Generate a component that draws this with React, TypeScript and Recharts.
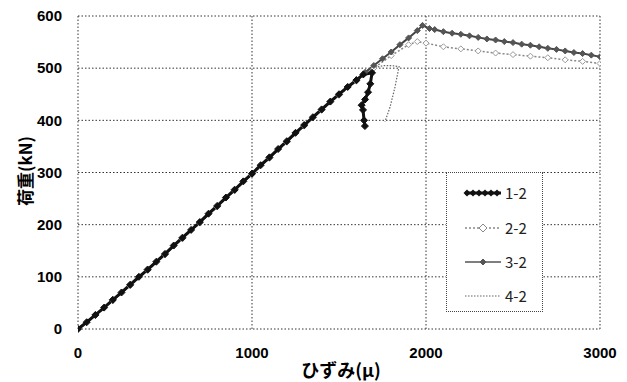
import { CartesianGrid, Line, LineChart, XAxis, YAxis } from "recharts";

const xTicks = [0, 1000, 2000, 3000];
const yTicks = [0, 100, 200, 300, 400, 500, 600];

// 1-2
const strain12 = [
  0, 50, 100, 150, 200, 250, 300, 350, 400, 450, 500, 550, 600, 650, 700, 750,
  800, 850, 900, 950, 1000, 1050, 1100, 1150, 1200, 1250, 1300, 1350, 1400,
  1450, 1500, 1550, 1600, 1640, 1690, 1680, 1667, 1650, 1630, 1638, 1644, 1649,
];
const load12 = [
  0, 13, 27, 41, 56, 70, 85, 100, 114, 129, 144, 160, 175, 190, 205, 221, 236,
  252, 267, 283, 298, 314, 329, 345, 360, 376, 391, 406, 421, 436, 450, 464,
  477, 488, 491, 470, 454, 440, 429, 420, 400, 389,
];

// 2-2
const strain22 = [
  0, 100, 200, 300, 400, 500, 600, 700, 800, 900, 1000, 1100, 1200, 1300, 1400,
  1500, 1600, 1700, 1800, 1900, 1950, 2000, 2100, 2200, 2300, 2400, 2500, 2600,
  2700, 2800, 2900, 3000,
];
const load22 = [
  0, 26, 54, 83, 112, 142, 173, 203, 234, 265, 296, 327, 358, 389, 419, 448,
  475, 500, 524, 545, 551, 548, 541, 537, 533, 529, 526, 523, 520, 516, 513,
  509,
];

// 3-2
const strain32 = [
  0, 100, 200, 300, 400, 500, 600, 700, 800, 900, 1000, 1100, 1200, 1300, 1400,
  1450, 1500, 1550, 1600, 1650, 1700, 1750, 1800, 1850, 1900, 1950, 1980, 2020,
  2050, 2100, 2150, 2200, 2250, 2300, 2350, 2400, 2450, 2500, 2550, 2600, 2650,
  2700, 2750, 2800, 2850, 2900, 2950, 3000,
];
const load32 = [
  0, 27, 55, 84, 113, 143, 174, 204, 235, 266, 297, 328, 359, 390, 420, 435,
  450, 464, 478, 492, 505, 518, 531, 545, 558, 572, 582, 576, 574, 570, 567,
  565, 562, 559, 556, 554, 551, 549, 546, 544, 541, 538, 536, 533, 530, 528,
  525, 522,
];

// 4-2
const strain42 = [
  0, 100, 200, 300, 400, 500, 600, 700, 800, 900, 1000, 1100, 1200, 1300, 1400,
  1500, 1600, 1700, 1760, 1800, 1845, 1822, 1793, 1764,
];
const load42 = [
  0, 27, 55, 84, 114, 144, 175, 205, 236, 267, 298, 329, 360, 390, 420, 449,
  476, 501, 505, 505, 503, 464, 425, 397,
];

const seriesNames = ["1-2", "2-2", "3-2", "4-2"];

function toPoints(xs: number[], ys: number[]) {
  return xs.map((x, i) => ({ x, y: ys[i] }));
}

function diamondPath(cx: number, cy: number, r: number) {
  return `M${cx},${cy - r}L${cx + r},${cy}L${cx},${cy + r}L${cx - r},${cy}Z`;
}

function diamondDot(fill: string, stroke: string, r: number) {
  return (props: any) => {
    const { cx, cy, index } = props;
    if (cx == null || cy == null) return <g key={`n-${index}`} />;
    return (
      <path
        key={`d-${index}`}
        d={diamondPath(cx, cy, r)}
        fill={fill}
        stroke={stroke}
        strokeWidth={1}
      />
    );
  };
}

const tickStyle = {
  fill: "#000",
  fontSize: 15,
  fontWeight: 700,
  fontFamily: "'Liberation Sans', Arial, sans-serif",
};

const titleFont = "'Noto Sans CJK JP', sans-serif";

function LegendSample({ index }: { index: number }) {
  if (index === 0) {
    return (
      <svg width={40} height={12}>
        <line x1={2} y1={6} x2={38} y2={6} stroke="#111" strokeWidth={3} />
        {[4, 10, 16, 22, 28, 34].map((x) => (
          <path key={x} d={diamondPath(x, 6, 3.5)} fill="#111" />
        ))}
      </svg>
    );
  }
  if (index === 1) {
    return (
      <svg width={40} height={12}>
        <line x1={2} y1={6} x2={38} y2={6} stroke="#888" strokeWidth={1.5} strokeDasharray="2 2" />
        <path d={diamondPath(20, 6, 4)} fill="#fff" stroke="#888" strokeWidth={1} />
      </svg>
    );
  }
  if (index === 2) {
    return (
      <svg width={40} height={12}>
        <line x1={2} y1={6} x2={38} y2={6} stroke="#555" strokeWidth={1.5} />
        <path d={diamondPath(20, 6, 3)} fill="#555" stroke="#555" strokeWidth={1} />
      </svg>
    );
  }
  return (
    <svg width={40} height={12}>
      <line x1={2} y1={6} x2={38} y2={6} stroke="#666" strokeWidth={1.2} strokeDasharray="1.5 1.5" />
    </svg>
  );
}

export default function App() {
  return (
    <div
      style={{
        position: "fixed",
        left: 0,
        top: 0,
        width: 627,
        height: 382,
        background: "#fff",
      }}
    >
      <LineChart
        width={627}
        height={382}
        margin={{ top: 16, right: 27, left: 0, bottom: 3 }}
      >
        <CartesianGrid stroke="#333" strokeDasharray="1.5 2" />
        <XAxis
          type="number"
          dataKey="x"
          domain={[0, 3000]}
          ticks={xTicks}
          axisLine={false}
          tickLine={false}
          tick={tickStyle}
          tickMargin={12}
          height={50}
          allowDataOverflow
          label={() => (
            <text
              x={341}
              y={377}
              textAnchor="middle"
              fontSize={18}
              fontWeight={700}
              fontFamily={titleFont}
              fill="#000"
            >
              ひずみ(μ)
            </text>
          )}
        />
        <YAxis
          type="number"
          dataKey="y"
          domain={[0, 600]}
          ticks={yTicks}
          axisLine={false}
          tickLine={false}
          tick={tickStyle}
          tickMargin={10}
          width={78}
          label={() => (
            <text
              x={24}
              y={171}
              transform="rotate(-90 24 171)"
              textAnchor="middle"
              dominantBaseline="central"
              fontSize={17}
              fontWeight={700}
              fontFamily={titleFont}
              fill="#000"
            >
              荷重(kN)
            </text>
          )}
        />
        <Line
          data={toPoints(strain42, load42)}
          dataKey="y"
          name={seriesNames[3]}
          stroke="#666"
          strokeWidth={1.2}
          strokeDasharray="1.5 1.5"
          dot={false}
          isAnimationActive={false}
        />
        <Line
          data={toPoints(strain22, load22)}
          dataKey="y"
          name={seriesNames[1]}
          stroke="#888"
          strokeWidth={1.5}
          strokeDasharray="2 2"
          dot={diamondDot("#fff", "#999", 3)}
          isAnimationActive={false}
        />
        <Line
          data={toPoints(strain32, load32)}
          dataKey="y"
          name={seriesNames[2]}
          stroke="#444"
          strokeWidth={2}
          dot={diamondDot("#555", "#555", 3)}
          isAnimationActive={false}
        />
        <Line
          data={toPoints(strain12, load12)}
          dataKey="y"
          name={seriesNames[0]}
          stroke="#111"
          strokeWidth={3}
          dot={diamondDot("#111", "#111", 3.5)}
          isAnimationActive={false}
        />
      </LineChart>
      <div
        style={{
          position: "absolute",
          left: 446,
          top: 172,
          width: 97,
          height: 140,
          boxSizing: "border-box",
          border: "1px dotted #444",
          background: "#fff",
        }}
      >
        {seriesNames.map((name, i) => (
          <div
            key={name}
            style={{
              position: "absolute",
              left: 16,
              top: [20, 55, 89, 123][i] - 9,
              height: 18,
              display: "flex",
              alignItems: "center",
            }}
          >
            <LegendSample index={i} />
            <span
              style={{
                marginLeft: 2,
                fontSize: 15,
                fontFamily: titleFont,
                color: "#222",
                lineHeight: "18px",
              }}
            >
              {name}
            </span>
          </div>
        ))}
      </div>
    </div>
  );
}
